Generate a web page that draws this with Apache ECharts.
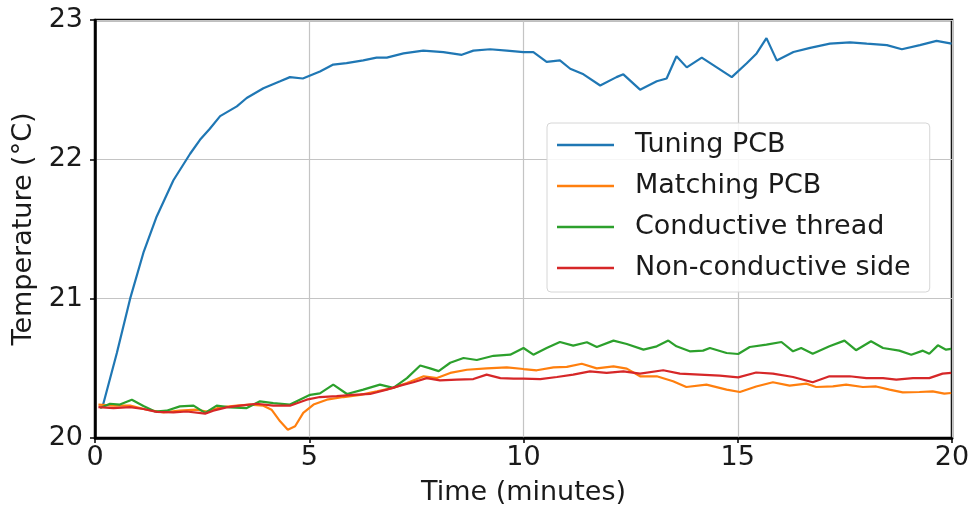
<!DOCTYPE html>
<html>
<head>
<meta charset="utf-8">
<script src="https://cdn.jsdelivr.net/npm/echarts@6/dist/echarts.min.js"></script>
<style>
  html, body { margin: 0; padding: 0; background: #fff; }
  #chart { width: 977px; height: 514px; }
</style>
</head>
<body>
<div id="chart"></div>
<script>
// values (time in minutes, temperature in °C)
const seriesNames = ['Tuning PCB', 'Matching PCB', 'Conductive thread', 'Non-conductive side']
const seriesColors = ['#1f77b4', '#ff7f0e', '#2ca02c', '#d62728']

const tuningTime = [0.19, 0.51, 0.82, 1.13, 1.44, 1.83, 2.22, 2.45, 2.68, 2.92, 3.31, 3.54, 3.93, 4.32, 4.55, 4.85, 5.25, 5.56, 5.87, 6.26, 6.57, 6.81, 7.2, 7.66, 8.13, 8.56, 8.83, 9.22, 9.61, 10.0, 10.23, 10.54, 10.85, 11.09, 11.4, 11.79, 12.17, 12.33, 12.72, 13.11, 13.34, 13.57, 13.81, 14.16, 14.51, 14.86, 15.21, 15.44, 15.67, 15.91, 16.3, 16.69, 17.15, 17.62, 18.01, 18.48, 18.83, 19.25, 19.64, 19.99]
const tuningTemp = [20.24, 20.61, 21.0, 21.33, 21.59, 21.85, 22.04, 22.14, 22.22, 22.31, 22.38, 22.44, 22.51, 22.56, 22.59, 22.58, 22.63, 22.68, 22.69, 22.71, 22.73, 22.73, 22.76, 22.78, 22.77, 22.75, 22.78, 22.79, 22.78, 22.77, 22.77, 22.70, 22.71, 22.65, 22.61, 22.53, 22.59, 22.61, 22.50, 22.56, 22.58, 22.74, 22.66, 22.73, 22.66, 22.59, 22.69, 22.76, 22.87, 22.71, 22.77, 22.80, 22.83, 22.84, 22.83, 22.82, 22.79, 22.82, 22.85, 22.83]

const matchingTime = [0.08, 0.43, 0.82, 1.21, 1.6, 1.98, 2.37, 2.61, 2.92, 3.31, 3.62, 3.93, 4.12, 4.32, 4.5, 4.67, 4.86, 5.1, 5.41, 5.8, 6.19, 6.58, 6.96, 7.28, 7.67, 7.98, 8.29, 8.68, 9.14, 9.61, 10.0, 10.31, 10.7, 11.01, 11.36, 11.71, 12.1, 12.41, 12.72, 13.11, 13.49, 13.8, 14.27, 14.74, 15.05, 15.43, 15.82, 16.21, 16.6, 16.83, 17.22, 17.53, 17.92, 18.23, 18.54, 18.85, 19.24, 19.55, 19.82, 19.98]
const matchingTemp = [20.24, 20.232, 20.232, 20.203, 20.184, 20.196, 20.203, 20.19, 20.22, 20.232, 20.24, 20.232, 20.203, 20.12, 20.06, 20.084, 20.18, 20.24, 20.275, 20.294, 20.31, 20.335, 20.36, 20.395, 20.443, 20.43, 20.467, 20.49, 20.50, 20.507, 20.495, 20.486, 20.507, 20.51, 20.533, 20.50, 20.514, 20.498, 20.443, 20.443, 20.407, 20.366, 20.383, 20.347, 20.33, 20.37, 20.40, 20.376, 20.39, 20.366, 20.37, 20.383, 20.366, 20.37, 20.347, 20.328, 20.33, 20.335, 20.318, 20.323]

const threadTime = [0.12, 0.35, 0.58, 0.86, 1.13, 1.4, 1.67, 1.98, 2.3, 2.57, 2.84, 3.15, 3.54, 3.85, 4.16, 4.55, 5.02, 5.25, 5.56, 5.88, 6.26, 6.65, 6.96, 7.28, 7.59, 7.82, 8.02, 8.29, 8.6, 8.91, 9.3, 9.69, 10.0, 10.23, 10.54, 10.85, 11.16, 11.48, 11.71, 12.1, 12.41, 12.8, 13.11, 13.38, 13.57, 13.88, 14.19, 14.35, 14.74, 15.01, 15.28, 15.67, 16.02, 16.29, 16.48, 16.75, 17.14, 17.49, 17.76, 18.11, 18.39, 18.77, 19.05, 19.32, 19.47, 19.67, 19.86, 19.98]
const threadTemp = [20.215, 20.246, 20.24, 20.275, 20.23, 20.19, 20.196, 20.227, 20.232, 20.18, 20.232, 20.22, 20.215, 20.263, 20.25, 20.24, 20.31, 20.32, 20.383, 20.316, 20.347, 20.383, 20.36, 20.43, 20.52, 20.50, 20.48, 20.54, 20.574, 20.56, 20.59, 20.598, 20.646, 20.598, 20.646, 20.689, 20.663, 20.687, 20.653, 20.699, 20.675, 20.634, 20.658, 20.699, 20.658, 20.622, 20.627, 20.646, 20.61, 20.603, 20.653, 20.67, 20.689, 20.622, 20.646, 20.605, 20.658, 20.699, 20.63, 20.694, 20.646, 20.627, 20.598, 20.627, 20.605, 20.665, 20.634, 20.64]

const sideTime = [0.08, 0.43, 0.82, 1.13, 1.44, 1.83, 2.14, 2.57, 2.76, 3.07, 3.39, 3.77, 4.16, 4.55, 4.94, 5.25, 5.64, 6.03, 6.42, 6.81, 7.12, 7.43, 7.74, 8.05, 8.44, 8.83, 9.14, 9.46, 9.77, 10.0, 10.39, 10.78, 11.16, 11.55, 11.94, 12.33, 12.72, 13.26, 13.65, 14.11, 14.58, 15.01, 15.43, 15.82, 16.29, 16.75, 17.14, 17.61, 18.0, 18.39, 18.7, 19.09, 19.47, 19.78, 19.98]
const sideTemp = [20.222, 20.215, 20.222, 20.208, 20.187, 20.184, 20.19, 20.175, 20.196, 20.22, 20.232, 20.246, 20.232, 20.232, 20.275, 20.294, 20.30, 20.31, 20.316, 20.347, 20.376, 20.40, 20.43, 20.414, 20.419, 20.423, 20.455, 20.43, 20.426, 20.426, 20.423, 20.438, 20.455, 20.478, 20.467, 20.478, 20.462, 20.486, 20.462, 20.455, 20.447, 20.435, 20.47, 20.462, 20.438, 20.40, 20.443, 20.443, 20.43, 20.43, 20.419, 20.43, 20.43, 20.462, 20.467]

const xTicks = [0, 5, 10, 15, 20]
const yTicks = [20, 21, 22, 23]

const FONT = 'DejaVu Sans'
const chart = echarts.init(document.getElementById('chart'))

const pairs = (xs, ys) => xs.map((x, i) => [x, ys[i]])
const allData = [
  pairs(tuningTime, tuningTemp),
  pairs(matchingTime, matchingTemp),
  pairs(threadTime, threadTemp),
  pairs(sideTime, sideTemp)
]

const seriesData = allData.map((d, i) => ({
  name: seriesNames[i],
  type: 'line',
  data: d,
  showSymbol: false,
  symbol: 'none',
  lineStyle: { width: 2.2, color: seriesColors[i] },
  itemStyle: { color: seriesColors[i] },
  z: 3 + i
}))

chart.setOption({
  animation: false,
  backgroundColor: '#fff',
  textStyle: { fontFamily: FONT },
  grid: {
    left: 95,
    right: 25,
    top: 20,
    bottom: 76,
    show: true,
    borderColor: '#000',
    borderWidth: 2.5,
    backgroundColor: 'transparent'
  },
  legend: {
    orient: 'vertical',
    left: 547,
    top: 123,
    padding: [7, 19, 9, 10],
    itemGap: 11,
    itemWidth: 57,
    itemHeight: 2.5,
    icon: 'rect',
    backgroundColor: 'rgba(255,255,255,0.85)',
    borderColor: '#d6d6d6',
    borderWidth: 1,
    borderRadius: 4,
    textStyle: {
      fontFamily: FONT,
      fontSize: 27,
      color: '#1a1a1a',
      lineHeight: 30,
      padding: [0, 0, 0, 16]
    },
    data: seriesNames
  },
  xAxis: {
    type: 'value',
    min: xTicks[0],
    max: xTicks[xTicks.length - 1],
    interval: 5,
    name: 'Time (minutes)',
    nameLocation: 'middle',
    nameGap: 41,
    nameTextStyle: { fontFamily: FONT, fontSize: 27, color: '#1a1a1a' },
    axisLine: { show: true, lineStyle: { color: '#000', width: 2.5 } },
    axisTick: { show: true, inside: false, length: 5, lineStyle: { color: '#000', width: 1.5 } },
    axisLabel: { margin: 6, fontFamily: FONT, fontSize: 27, color: '#1a1a1a' },
    splitLine: { show: true, lineStyle: { color: '#c4c4c4', width: 1.2 } }
  },
  yAxis: {
    type: 'value',
    min: yTicks[0],
    max: yTicks[yTicks.length - 1],
    interval: 1,
    name: 'Temperature (°C)',
    nameLocation: 'middle',
    nameGap: 46,
    nameRotate: 90,
    nameTextStyle: { fontFamily: FONT, fontSize: 27, color: '#1a1a1a' },
    axisLine: { show: true, lineStyle: { color: '#000', width: 2.5 } },
    axisTick: { show: true, inside: false, length: 5, lineStyle: { color: '#000', width: 1.5 } },
    axisLabel: { margin: 12, fontFamily: FONT, fontSize: 27, color: '#1a1a1a' },
    splitLine: { show: true, lineStyle: { color: '#c4c4c4', width: 1.2 } }
  },
  series: seriesData
})
</script>
</body>
</html>
